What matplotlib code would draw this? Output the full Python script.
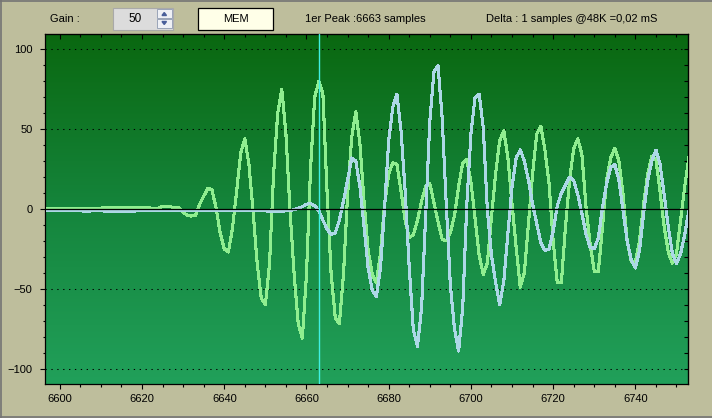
import numpy as np
import matplotlib
matplotlib.use("Agg")
import matplotlib.pyplot as plt
from matplotlib.patches import Rectangle, Polygon
from matplotlib.lines import Line2D
from matplotlib.colors import LinearSegmentedColormap
from matplotlib.ticker import MultipleLocator

plt.rcParams['font.family'] = ['Liberation Sans', 'DejaVu Sans']

# ---- data (one value per sample) ----
samples = np.arange(6597, 6754)

green_trace = [
    0, 0, 0, 0.5, 0.5, 0.5, 0.5, 0.5, 0.5, 0.5,            # 6597-6606
    0.5, 0.5, 0.5, 0.5, 1.2, 1.2, 1.2, 1.2, 1.2, 1.2,      # 6607-6616
    1.2, 1.2, 1.2, 1.2, 1.2, 0.6, 0.6, 0.6, 1.8, 1.8,      # 6617-6626
    1.3, 1.0, 0.6, -2, -4, -4.4, -4, 3, 8, 13,             # 6627-6636
    12, 1, -15, -25, -27, -12, 11, 35, 44, 28,             # 6637-6646
    -1, -34, -56, -60, -35, 22, 60, 75, 47, -1,            # 6647-6656
    -41, -72, -81, -41, 26, 70, 80, 72, 11, -41,           # 6657-6666
    -68, -72, -41, 9, 45, 61, 41, 5, -26, -41,             # 6667-6676
    -46, -28, 3, 22, 29, 28, 11, -7, -18, -16,             # 6677-6686
    -7, 5, 14, 16, 4, -8, -19, -20, -15, -4,               # 6687-6696
    14, 29, 31, 17, -6, -29, -41, -34, -5, 22,             # 6697-6706
    43, 49, 32, 3, -24, -49, -40, -9, 22, 47,              # 6707-6716
    52, 37, 16, -20, -46, -46, -11, 18, 38, 44,            # 6717-6726
    34, 1, -22, -39, -39, -11, 18, 32, 38, 30,             # 6727-6736
    9, -20, -33, -33, -20, 3, 22, 33, 31, 11,              # 6737-6746
    -11, -27, -34, -28, -7, 14, 32,                        # 6747-6753
]

blue_trace = [
    -1.2, -1.2, -0.8, -0.8, -0.8, -0.8, -0.8, -0.8, -0.8, -1.5,   # 6597-6606
    -1.5, -0.8, -0.8, -0.8, -1.4, -1.4, -1.4, -1.4, -1.4, -1.4,   # 6607-6616
    -1.4, -1.4, -0.8, -0.8, -0.8, -0.8, -0.8, -0.8, -1.2, -1.2,   # 6617-6626
    -0.8, -1, -1, -1, -0.8, -0.8, -1, -1, -1.2, -1.2,             # 6627-6636
    -1, -1, -0.8, -0.8, -1, -1, -1, -1, -0.8, -0.8,               # 6637-6646
    -0.8, -1, -1, -1, -1.8, -1.8, -1.8, -1.8, -1, -1,             # 6647-6656
    -0.4, 0.5, 1.5, 3, 3.5, 2, -1, -7, -12.5, -16,                # 6657-6666
    -15, -7, 5, 18, 32, 30, 14, -11, -37, -51,                    # 6667-6676
    -55, -37, 1, 43, 64, 72, 49, 11, -37, -76,                    # 6677-6686
    -86, -62, -4, 55, 86, 90, 57, 3, -48, -75,                    # 6687-6696
    -89, -62, 3, 47, 70, 72, 51, -1, -29, -46,                    # 6697-6706
    -60, -45, -15, 14, 32, 37, 30, 18, 3, -9,                     # 6707-6716
    -21, -26, -25, -14, 2, 10, 15, 20, 18, 9,                     # 6717-6726
    -3, -16, -24, -25, -18, 1, 16, 26, 28, 18,                    # 6727-6736
    -1, -20, -32, -37, -26, -3, 18, 30, 37, 28,                   # 6737-6746
    9, -11, -28, -34, -28, -16, -1,                               # 6747-6753
]

cursor_sample = 6663
x_major = [6600, 6620, 6640, 6660, 6680, 6700, 6720, 6740]
y_major = [-100, -50, 0, 50, 100]
grid_levels = [-100, -50, 50, 100]

gain_value = "50"
header_peak = "1er Peak :6663 samples"
header_delta = "Delta : 1 samples @48K =0,02 mS"

W, H = 712, 418
BG = '#bebe9c'

fig = plt.figure(figsize=(W / 100, H / 100), dpi=100, facecolor=BG)


def fx(px):
    return px / W


def fy(py):
    return 1 - py / H


ax = fig.add_axes([fx(45), fy(384), 643 / W, 350 / H])
xlim = (6596.4, 6752.8)
ylim = (-109.7, 109.7)
ax.set_xlim(*xlim)
ax.set_ylim(*ylim)

# green gradient background
cmap = LinearSegmentedColormap.from_list('scope', ['#21a05a', '#15853c', '#0a6810'])
ax.imshow(np.linspace(0, 1, 256).reshape(-1, 1), cmap=cmap, origin='lower',
          extent=[xlim[0], xlim[1], ylim[0], ylim[1]], aspect='auto', zorder=0)

for lvl in grid_levels:
    ax.axhline(lvl, color='black', lw=0.75, ls=(0, (1.25, 4.4)), zorder=2)

ax.plot(samples, green_trace, color='#90ee90', lw=1.5, zorder=3, antialiased=False)
ax.plot(samples, blue_trace, color='#add8e6', lw=1.5, zorder=3.5, antialiased=False)
ax.axhline(0, color='black', lw=0.9, zorder=4)
ax.axvline(cursor_sample, color='#40f0e0', lw=1, zorder=5)

for s in ax.spines.values():
    s.set_color('black')
    s.set_linewidth(0.9)

ax.set_xticks(x_major)
ax.xaxis.set_minor_locator(MultipleLocator(5))
ax.set_yticks(y_major)
ax.yaxis.set_minor_locator(MultipleLocator(10))
ax.tick_params(axis='x', which='major', direction='out', length=3.8, width=0.8,
               pad=3.5, labelsize=8, colors='black')
ax.tick_params(axis='x', which='minor', direction='out', length=2.4, width=0.8)
ax.tick_params(axis='y', which='major', direction='out', length=3.6, width=0.8,
               pad=5.5, labelsize=8, colors='black')
ax.tick_params(axis='y', which='minor', direction='out', length=1.8, width=0.8)

top = ax.secondary_xaxis('top')
top.set_xticks(x_major)
top.xaxis.set_minor_locator(MultipleLocator(5))
top.tick_params(which='major', direction='in', length=3.6, width=0.8, labeltop=False)
top.tick_params(which='minor', direction='in', length=2.4, width=0.8)

right = ax.secondary_yaxis('right')
right.set_yticks(range(-100, 101, 10))
right.tick_params(direction='in', length=2.9, width=0.8, labelright=False)

# ---- header controls ----
def rect(x, y, w, h, **kw):
    fig.add_artist(Rectangle((fx(x), fy(y + h)), w / W, h / H,
                             transform=fig.transFigure, **kw))


fig.text(fx(50), fy(18.5), "Gain :", fontsize=8, va='center', ha='left')

rect(113.5, 7.5, 59, 22, facecolor='#dcdcdc', edgecolor='#a9a9a9', lw=0.8)
fig.text(fx(142), fy(18.5), gain_value, fontsize=8.5, va='center', ha='right')
rect(157, 9.5, 14.5, 8.5, facecolor='#eef0f5', edgecolor='#9aa4b8', lw=0.7)
rect(157, 19, 14.5, 8.5, facecolor='#eef0f5', edgecolor='#9aa4b8', lw=0.7)
fig.add_artist(Polygon([(fx(162), fy(15.5)), (fx(166.5), fy(15.5)), (fx(164.25), fy(12.5))],
                       closed=True, transform=fig.transFigure, color='#4a5f9a'))
fig.add_artist(Polygon([(fx(162), fy(21.5)), (fx(166.5), fy(21.5)), (fx(164.25), fy(24.5))],
                       closed=True, transform=fig.transFigure, color='#4a5f9a'))

rect(198.5, 7.5, 74, 22, facecolor='#ffffe8', edgecolor='black', lw=0.9)
fig.text(fx(235.5), fy(18.5), "MEM", fontsize=8, va='center', ha='center')

fig.text(fx(305), fy(18.5), header_peak, fontsize=8, va='center', ha='left')
fig.text(fx(486), fy(18.5), header_delta, fontsize=8, va='center', ha='left')

# window frame lines
for (x0, y0, x1, y1) in [(0.5, 0, 0.5, H), (0, H - 1, W, H - 1), (0, 0.5, W, 0.5)]:
    fig.add_artist(Line2D([fx(x0), fx(x1)], [fy(y0), fy(y1)], color='#747474',
                          lw=1.2, transform=fig.transFigure))

fig.savefig('out.png', dpi=100, facecolor=BG)
